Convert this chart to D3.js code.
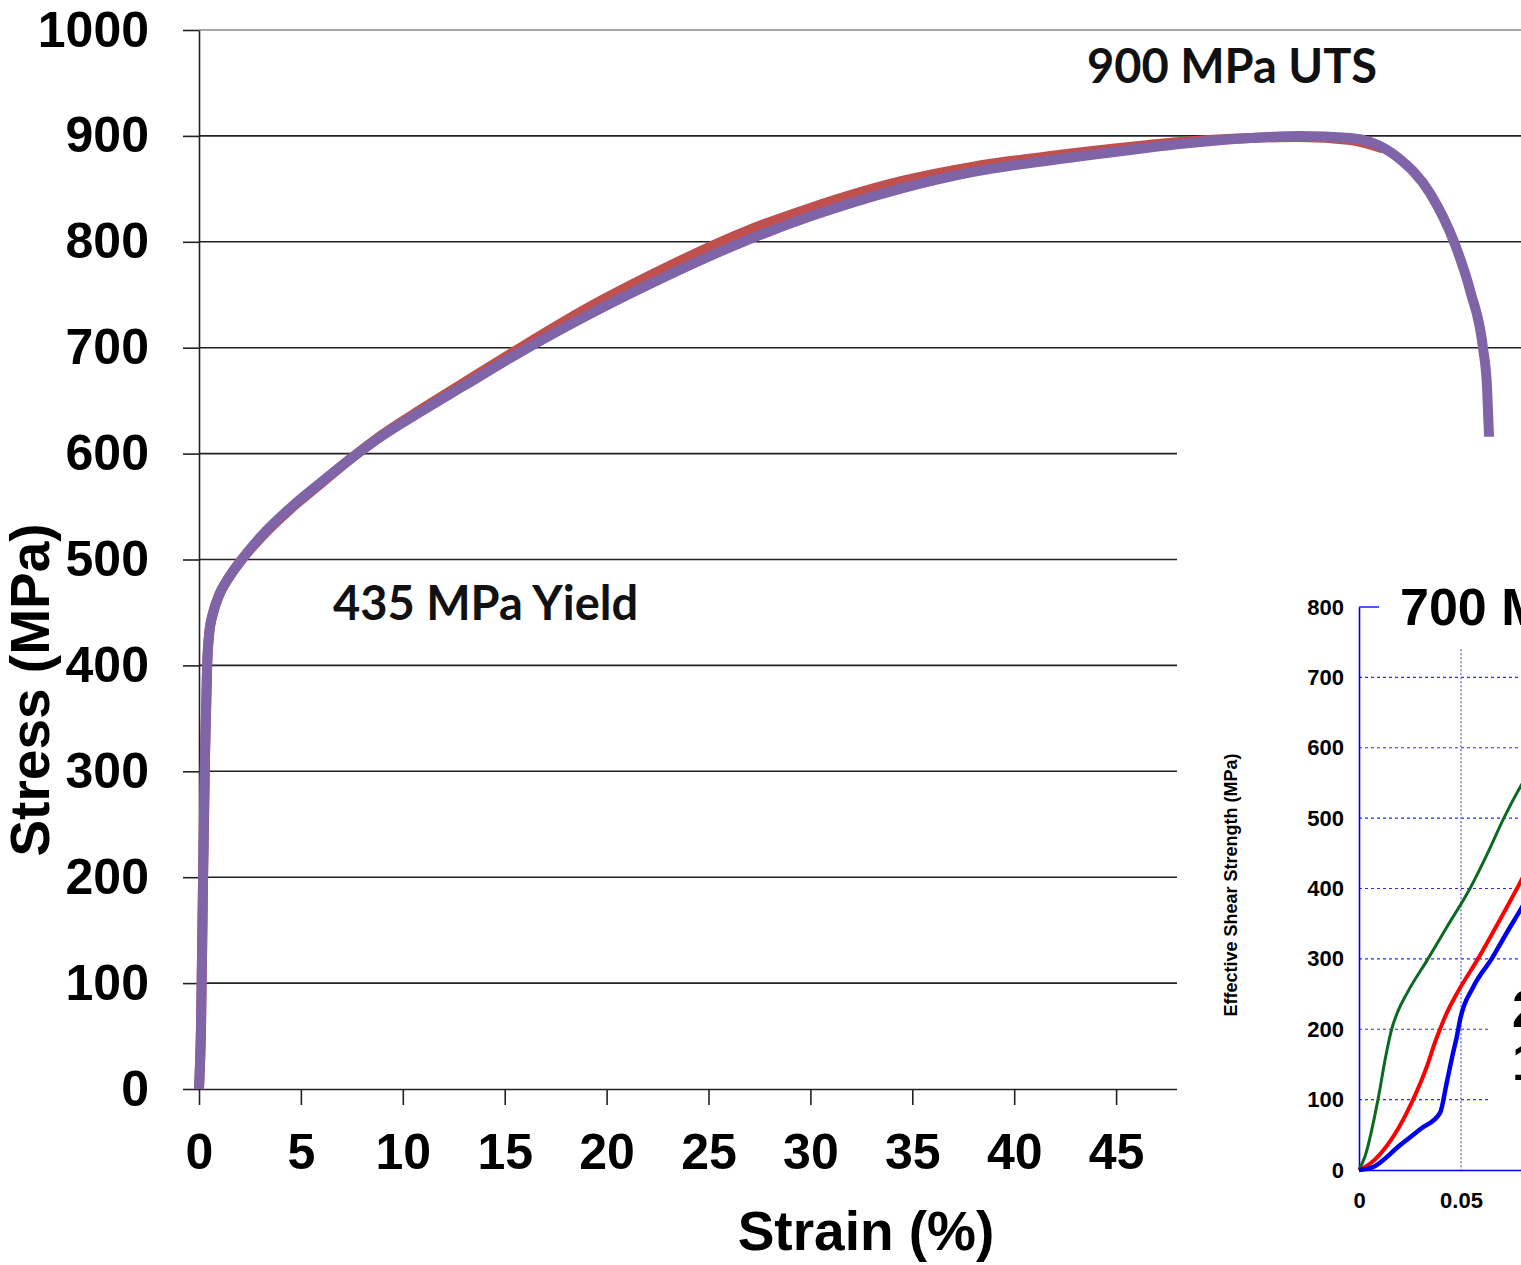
<!DOCTYPE html>
<html>
<head>
<meta charset="utf-8">
<script src="https://cdn.jsdelivr.net/npm/d3@7"></script>
<style>
body { margin: 0; background: #fff; }
svg { display: block; }
</style>
</head>
<body>
<div class="grafico"></div>
<script>
const width = 1521, height = 1265;

// tensile curves (strain %, stress MPa)
const purpleStrain = [0, 0.1, 0.2, 0.3, 0.4, 0.5, 0.7, 1.0, 1.4, 2.1, 3, 4.5, 6, 7.3, 9, 11, 13, 15.6, 19.2, 22, 26.7, 30, 34.4, 38, 41.8, 45.4, 48, 51.6, 54, 56.5, 57.5, 58.8, 60.4, 61.6, 62.4, 63.0, 63.2, 63.3];
const purpleStress = [0, 60, 200, 320, 400, 430, 450, 467, 481, 500, 521, 549, 573, 593, 617, 641, 664, 694, 732, 759, 800, 824, 850, 866, 877, 886, 892, 898, 900, 898, 894, 880, 846, 799, 752, 700, 663, 616];
const redStrain = [0, 0.1, 0.2, 0.3, 0.4, 0.5, 0.7, 1.0, 1.4, 2.1, 3, 4.5, 6, 7.3, 9, 11, 13, 15.6, 19.2, 22, 26.7, 30, 34.4, 38, 41.8, 45.4, 48, 51.6, 54, 56.5, 58.1];
const redStress = [0, 60, 200, 320, 400, 430, 450, 467, 481, 500, 520, 548, 572, 593, 618, 643, 667, 698, 739, 767, 809, 832, 857, 871, 881, 889, 894, 898, 899, 896, 888];
const stressTicks = d3.range(0, 1001, 100);
const strainTicks = d3.range(0, 46, 5);

// inset shear curves (strain, MPa)
const greenStrain = [0, 0.003, 0.0093, 0.013, 0.016, 0.019, 0.0235, 0.0338, 0.043, 0.0544, 0.063, 0.071, 0.079, 0.09];
const greenShear = [0, 20, 100, 160, 200, 225, 251, 300, 345, 400, 450, 500, 544, 590];
const redShearStrain = [0, 0.005, 0.0167, 0.0265, 0.033, 0.0377, 0.0397, 0.043, 0.048, 0.0583, 0.068, 0.0789, 0.09];
const redShear = [0, 8, 47, 100, 145, 185, 200, 223, 251, 300, 350, 408, 470];
const blueStrain = [0, 0.006, 0.02, 0.03, 0.0397, 0.043, 0.046, 0.048, 0.0495, 0.056, 0.065, 0.072, 0.079, 0.09];
const blueShear = [0, 3, 35, 58, 81, 124, 165, 190, 213, 260, 300, 335, 369, 425];
const shearTicks = d3.range(0, 801, 100);
const shearStrainTicks = [0, 0.05];

const svg = d3.select(".grafico")
    .append("svg")
    .attr("width", width)
    .attr("height", height)
    .style("background", "#fff");

const x = d3.scaleLinear().domain([0, 65]).range([199, 199 + 65 * 20.38]);
const y = d3.scaleLinear().domain([0, 1000]).range([1089, 30]);

const bold = "'Liberation Sans', Arial, sans-serif";

// gridlines
svg.append("g")
    .selectAll("line")
    .data(stressTicks.filter(d => d > 0))
    .enter().append("line")
    .attr("x1", 199).attr("x2", width)
    .attr("y1", d => y(d)).attr("y2", d => y(d))
    .attr("stroke", d => d === 1000 ? "#888" : "#222")
    .attr("stroke-width", 1.6);

const yAxis = svg.append("g")
    .attr("transform", "translate(199,0)")
    .call(d3.axisLeft(y).tickValues(stressTicks).tickFormat(d3.format("d"))
        .tickSize(16).tickSizeOuter(0).tickPadding(34));

const xAxis = svg.append("g")
    .attr("transform", "translate(0,1089)")
    .call(d3.axisBottom(x).tickValues(strainTicks).tickSize(16).tickSizeOuter(0).tickPadding(28));

[yAxis, xAxis].forEach(ax => {
    ax.selectAll("path, line").attr("stroke", "#222").attr("stroke-width", 1.6);
    ax.selectAll("text")
        .attr("fill", "#000")
        .style("font-family", bold)
        .style("font-weight", "bold")
        .style("font-size", "50px");
});

svg.append("text")
    .attr("transform", "translate(30,690) rotate(-90)")
    .attr("text-anchor", "middle")
    .attr("dy", "0.35em")
    .style("font-family", bold)
    .style("font-weight", "bold")
    .style("font-size", "55px")
    .text("Stress (MPa)");

svg.append("text")
    .attr("x", 866).attr("y", 1250)
    .attr("text-anchor", "middle")
    .style("font-family", bold)
    .style("font-weight", "bold")
    .style("font-size", "55px")
    .text("Strain (%)");

// curves
const line = d3.line()
    .x(d => x(d[0]))
    .y(d => y(d[1]))
    .curve(d3.curveMonotoneX);

svg.append("path")
    .datum(d3.zip(redStrain, redStress))
    .attr("d", line)
    .attr("fill", "none")
    .attr("stroke", "#c0504d")
    .attr("stroke-width", 10)
    .attr("stroke-linejoin", "round");

svg.append("path")
    .datum(d3.zip(purpleStrain, purpleStress))
    .attr("d", line)
    .attr("fill", "none")
    .attr("stroke", "#7f64a8")
    .attr("stroke-width", 10)
    .attr("stroke-linejoin", "round");

// annotations
const note = (tx, ty, s) => svg.append("text")
    .attr("x", tx).attr("y", ty)
    .style("font-family", "Lato, 'Open Sans', sans-serif")
    .style("font-weight", "bold")
    .style("font-size", "47px")
    .attr("fill", "#111")
    .text(s);
note(1087, 83, "900 MPa UTS");
note(333, 620, "435 MPa Yield");

// ---------- inset ----------
svg.append("rect")
    .attr("x", 1177).attr("y", 437)
    .attr("width", width - 1177).attr("height", height - 437)
    .attr("fill", "#fff");

const xi = d3.scaleLinear().domain([0, 0.1]).range([1359, 1563]);
const yi = d3.scaleLinear().domain([0, 800]).range([1170, 607]);

svg.append("g")
    .selectAll("line")
    .data(shearTicks.filter(d => d > 0 && d < 800))
    .enter().append("line")
    .attr("x1", 1359).attr("x2", d => d <= 200 ? 1490 : width)
    .attr("y1", d => yi(d)).attr("y2", d => yi(d))
    .attr("stroke", "#2a2aff")
    .attr("stroke-width", 1.2)
    .attr("stroke-dasharray", "3,3");

svg.append("line")
    .attr("x1", xi(0.05)).attr("x2", xi(0.05))
    .attr("y1", yi(740)).attr("y2", yi(0))
    .attr("stroke", "#6a6aff")
    .attr("stroke-width", 1.4)
    .attr("stroke-dasharray", "2,2");

svg.append("line")
    .attr("x1", 1359).attr("x2", 1379)
    .attr("y1", yi(800)).attr("y2", yi(800))
    .attr("stroke", "#2a2aff")
    .attr("stroke-width", 1.6);

const yiAxis = svg.append("g")
    .attr("transform", "translate(1359,0)")
    .call(d3.axisLeft(yi).tickValues(shearTicks).tickSize(0).tickPadding(15));

const xiAxis = svg.append("g")
    .attr("transform", "translate(0,1170)")
    .call(d3.axisBottom(xi).tickValues(shearStrainTicks).tickSize(0).tickPadding(22)
        .tickFormat(d => d === 0 ? "0" : d3.format(".2f")(d)));

[yiAxis, xiAxis].forEach(ax => {
    ax.select(".domain").attr("stroke", "#0000ee").attr("stroke-width", 1.6);
    ax.selectAll("text")
        .attr("fill", "#000")
        .style("font-family", bold)
        .style("font-weight", "bold")
        .style("font-size", "22px");
});

svg.append("text")
    .attr("transform", "translate(1231,885) rotate(-90)")
    .attr("text-anchor", "middle")
    .attr("dy", "0.35em")
    .style("font-family", bold)
    .style("font-weight", "bold")
    .style("font-size", "18px")
    .text("Effective Shear Strength (MPa)");

const lineI = d3.line()
    .x(d => xi(d[0]))
    .y(d => yi(d[1]))
    .curve(d3.curveMonotoneX);

const insetSeries = [
    { pts: d3.zip(greenStrain, greenShear), color: "#0b6a22", w: 3 },
    { pts: d3.zip(redShearStrain, redShear), color: "#ff0000", w: 4 },
    { pts: d3.zip(blueStrain, blueShear), color: "#0000ee", w: 4.5 }
];

svg.append("g")
    .selectAll("path")
    .data(insetSeries)
    .enter().append("path")
    .attr("d", d => lineI(d.pts))
    .attr("fill", "none")
    .attr("stroke", d => d.color)
    .attr("stroke-width", d => d.w);

// labels that run past the right edge, as in the source picture
const big = (tx, ty, s) => svg.append("text")
    .attr("x", tx).attr("y", ty)
    .style("font-family", bold)
    .style("font-weight", "bold")
    .style("font-size", "52px")
    .attr("fill", "#000")
    .text(s);
big(1400, 625, "700 MPa");
big(1512, 1027, "2");
big(1512, 1080, "1");
</script>
</body>
</html>
